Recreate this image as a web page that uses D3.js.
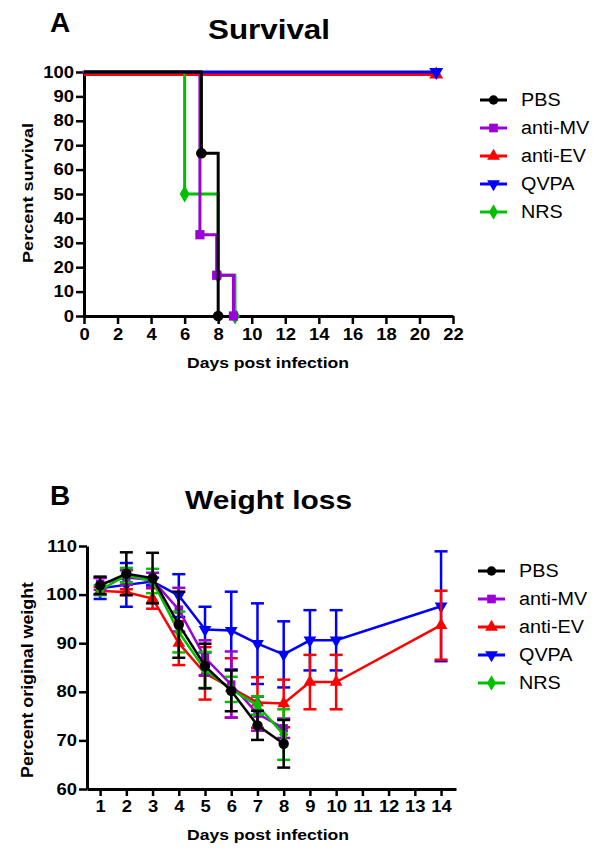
<!DOCTYPE html>
<html><head><meta charset="utf-8">
<script src="https://cdn.jsdelivr.net/npm/d3@7"></script>
<style>
body{margin:0;background:#fff;}
svg{display:block;font-family:"Liberation Sans",Arial,sans-serif;}
</style></head>
<body><svg id="c" width="600" height="854"></svg>
<script>
// ---------- data ----------
const groups = ["PBS","anti-MV","anti-EV","QVPA","NRS"];
const colors = ["#000000","#9b00d9","#ff0000","#0000ff","#00c000"];
const symbols = [d3.symbolCircle, d3.symbolSquare, d3.symbolTriangle, "down", d3.symbolDiamond];

// Survival (Kaplan-Meier steps): days of each step and percent survival
const survPBS_days = [0,7,8];      const survPBS = [100,66.7,0];
const survMV_days  = [0,7,8,9];    const survMV  = [100,33.3,16.7,0];
const survEV_days  = [0,21];       const survEV  = [100,100];
const survQV_days  = [0,21];       const survQV  = [100,100];
const survNRS_days = [0,6,8,9];    const survNRS = [100,50,16.7,0];
const survXTicks = [0,2,4,6,8,10,12,14,16,18,20,22];
const survYTicks = [0,10,20,30,40,50,60,70,80,90,100];

// Weight loss: mean and SD per day
const wDays = [1,2,3,4,5,6,7,8,9,10,14];
const wPBS   = [101.9,104.3,103.4,93.8,85.3,80.2,73.1,69.3,null,null,null];
const wPBSsd = [1.8,4.4,5.2,6.8,4.6,4.2,3.0,4.9,null,null,null];
const wMV    = [102.2,103.5,103.0,96.9,87.0,81.5,75.5,72.5,null,null,null];
const wMVsd  = [1.2,1.5,1.5,4.5,3.6,6.8,3.5,2.0,null,null,null];
const wEV    = [100.8,100.5,99.2,90.0,83.8,80.8,77.8,77.6,82.0,82.0,93.7];
const wEVsd  = [0.8,0.6,2.1,4.5,5.4,6.1,5.2,4.9,5.6,5.6,7.1];
const wQV    = [101.3,102.0,102.7,99.8,92.8,92.6,89.9,87.7,90.6,90.6,97.6];
const wQVsd  = [2.2,4.5,0.8,4.4,4.7,8.0,8.3,6.8,6.2,6.2,11.3];
const wNRS   = [100.9,104.0,102.8,92.3,84.5,80.5,77.2,71.2,null,null,null];
const wNRSsd = [1.0,1.5,2.5,4.2,3.7,2.6,1.9,5.2,null,null,null];
const wXTicks = [1,2,3,4,5,6,7,8,9,10,11,12,13,14];
const wYTicks = [60,70,80,90,100,110];

// ---------- helpers ----------
const svg = d3.select("#c");
const STRETCH = 1.15;
function stretch(sel, f){
  sel.each(function(){
    const len = this.getComputedTextLength();
    d3.select(this).attr("textLength", len*(f||STRETCH)).attr("lengthAdjust","spacingAndGlyphs");
  });
}
function symPath(i, size){
  if (symbols[i] === "down") {
    return d3.symbol(d3.symbolTriangle, size)();
  }
  return d3.symbol(symbols[i], size)();
}
function drawMarker(g, i, x, y, size){
  const p = g.append("path").attr("d", symPath(i,size)).attr("fill", colors[i])
    .attr("transform", `translate(${x},${y})` + (symbols[i]==="down" ? " rotate(180)" : ""));
  return p;
}
function styleAxis(g){
  g.selectAll("path.domain").attr("stroke","#000").attr("stroke-width",3);
  g.selectAll(".tick line").attr("stroke","#000").attr("stroke-width",2.5);
  g.selectAll(".tick text").attr("font-size",16).attr("font-weight","bold").attr("fill","#000")
    .attr("font-family","Liberation Sans, Arial, sans-serif");
}
function legend(x0, y0){
  groups.forEach((name,i)=>{
    const y = y0 + i*28;
    const g = svg.append("g");
    g.append("line").attr("x1",x0).attr("x2",x0+27).attr("y1",y).attr("y2",y)
      .attr("stroke",colors[i]).attr("stroke-width",3);
    drawMarker(g, i, x0+13.5, y, i===0?70:(i===1?75:70));
    g.append("text").attr("x",x0+41).attr("y",y).attr("dy","0.36em")
      .attr("font-size",18).attr("fill","#000").text(name).call(stretch,1.1);
  });
}

// ---------- Chart A: Survival ----------
const xs = d3.scaleLinear().domain([0,22]).range([84,453]);
const ys = d3.scaleLinear().domain([0,100]).range([316,72]);

const xAxA = svg.append("g").attr("transform","translate(0,316)")
  .call(d3.axisBottom(xs).tickValues(survXTicks).tickSize(8).tickSizeOuter(0).tickPadding(5));
styleAxis(xAxA); xAxA.selectAll(".tick text").call(stretch);
const yAxA = svg.append("g").attr("transform","translate(84,0)")
  .call(d3.axisLeft(ys).tickValues(survYTicks).tickSize(8).tickSizeOuter(0).tickPadding(2));
styleAxis(yAxA); yAxA.selectAll(".tick text").call(stretch);

const survSeries = [
  {i:0, d:survPBS_days, v:survPBS},
  {i:1, d:survMV_days,  v:survMV},
  {i:2, d:survEV_days,  v:survEV},
  {i:3, d:survQV_days,  v:survQV},
  {i:4, d:survNRS_days, v:survNRS}
];
const stepLine = d3.line().x(p=>xs(p[0])).y(p=>ys(p[1])).curve(d3.curveStepAfter);
const offA = {0:[0,0],1:[-1.5,0],2:[0,2.5],3:[0,0],4:[0,0]};
const orderA = [2,3,4,1,0];
orderA.forEach(k=>{
  const s = survSeries[k];
  const pts = s.d.map((d,j)=>[d,s.v[j]]);
  const g = svg.append("g").attr("transform",`translate(${offA[k][0]},${offA[k][1]})`);
  g.append("path").attr("d",stepLine(pts)).attr("fill","none")
    .attr("stroke",colors[k]).attr("stroke-width",3);
  pts.slice(1).forEach(p=>drawMarker(g,k,xs(p[0]),ys(p[1]), k===0?90:85));
});

svg.append("text").attr("x",50).attr("y",32).attr("font-size",28).attr("font-weight","bold").text("A");
svg.append("text").attr("x",269).attr("y",39).attr("text-anchor","middle")
  .attr("font-size",28).attr("font-weight","bold").text("Survival").attr("textLength",122).attr("lengthAdjust","spacingAndGlyphs");
svg.append("text").attr("x",268).attr("y",368).attr("text-anchor","middle")
  .attr("font-size",15).attr("font-weight","bold").text("Days post infection").attr("textLength",162).attr("lengthAdjust","spacingAndGlyphs");
svg.append("text").attr("transform","translate(33,193) rotate(-90)").attr("text-anchor","middle")
  .attr("font-size",15).attr("font-weight","bold").text("Percent survival").attr("textLength",140).attr("lengthAdjust","spacingAndGlyphs");
legend(480, 100);

// ---------- Chart B: Weight loss ----------
const xw = d3.scaleLinear().domain([0.5,14.57]).range([87,456]);
const yw = d3.scaleLinear().domain([60,110]).range([789,546]);

const xAxB = svg.append("g").attr("transform","translate(0,789)")
  .call(d3.axisBottom(xw).tickValues(wXTicks).tickSize(7).tickSizeOuter(0).tickPadding(5));
styleAxis(xAxB); xAxB.selectAll(".tick text").call(stretch);
const yAxB = svg.append("g").attr("transform","translate(87,0)")
  .call(d3.axisLeft(yw).tickValues(wYTicks).tickSize(8).tickSizeOuter(0).tickPadding(2));
styleAxis(yAxB); yAxB.selectAll(".tick text").call(stretch);

const wSeries = [
  {i:0, m:wPBS, s:wPBSsd},
  {i:1, m:wMV,  s:wMVsd},
  {i:2, m:wEV,  s:wEVsd},
  {i:3, m:wQV,  s:wQVsd},
  {i:4, m:wNRS, s:wNRSsd}
];
const wLine = d3.line().defined(p=>p[1]!=null).x(p=>xw(p[0])).y(p=>yw(p[1]));
const orderB = [3,2,1,4,0];
orderB.forEach(k=>{
  const s = wSeries[k];
  const pts = wDays.map((d,j)=>[d,s.m[j],s.s[j]]).filter(p=>p[1]!=null);
  const g = svg.append("g");
  g.append("path").attr("d",wLine(pts)).attr("fill","none")
    .attr("stroke",colors[k]).attr("stroke-width",2.5);
  pts.forEach(p=>{
    const x = xw(p[0]), y1 = yw(p[1]+p[2]), y2 = yw(p[1]-p[2]);
    g.append("line").attr("x1",x).attr("x2",x).attr("y1",y1).attr("y2",y2)
      .attr("stroke",colors[k]).attr("stroke-width",2.5);
    [y1,y2].forEach(yy=>g.append("line").attr("x1",x-6.5).attr("x2",x+6.5).attr("y1",yy).attr("y2",yy)
      .attr("stroke",colors[k]).attr("stroke-width",2.5));
    drawMarker(g,k,x,yw(p[1]), k===0?85:70);
  });
});

svg.append("text").attr("x",50).attr("y",505).attr("font-size",28).attr("font-weight","bold").text("B");
svg.append("text").attr("x",268.5).attr("y",509).attr("text-anchor","middle")
  .attr("font-size",25).attr("font-weight","bold").text("Weight loss").attr("textLength",167).attr("lengthAdjust","spacingAndGlyphs");
svg.append("text").attr("x",268).attr("y",840).attr("text-anchor","middle")
  .attr("font-size",15).attr("font-weight","bold").text("Days post infection").attr("textLength",162).attr("lengthAdjust","spacingAndGlyphs");
svg.append("text").attr("transform","translate(33,680) rotate(-90)").attr("text-anchor","middle")
  .attr("font-size",16).attr("font-weight","bold").text("Percent original weight").attr("textLength",196).attr("lengthAdjust","spacingAndGlyphs");
legend(478, 571);
</script></body></html>
